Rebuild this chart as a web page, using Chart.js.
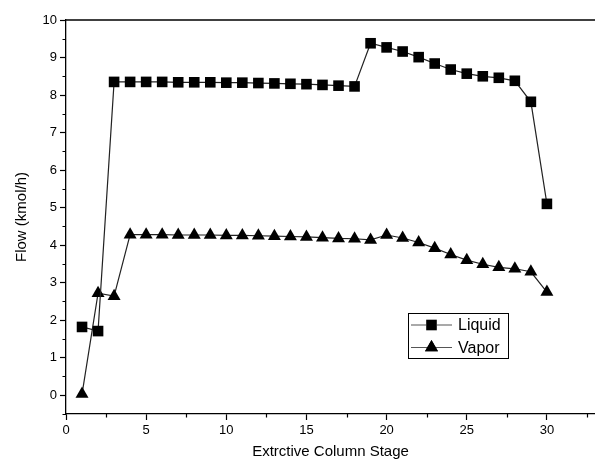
<!DOCTYPE html>
<html>
<head>
<meta charset="utf-8">
<script src="https://cdn.jsdelivr.net/npm/chart.js@4.4.1/dist/chart.umd.min.js"></script>
<style>
  html, body { margin: 0; padding: 0; background: #fff; }
  #wrap { width: 595px; height: 471px; }
</style>
</head>
<body>
<div id="wrap"><canvas id="chart1"></canvas></div>
<script>
// stage numbers along the column
var stages = [1,2,3,4,5,6,7,8,9,10,11,12,13,14,15,16,17,18,19,20,21,22,23,24,25,26,27,28,29,30];

// liquid flow, kmol/h
var liquid = [1.82,1.71,8.35,8.35,8.35,8.35,8.34,8.34,8.34,8.33,8.33,8.32,8.31,8.30,8.29,8.27,8.25,8.23,
              9.38,9.27,9.16,9.01,8.84,8.68,8.57,8.50,8.46,8.38,7.82,5.10];

// vapor flow, kmol/h
var vapor = [0.03,2.72,2.64,4.28,4.28,4.28,4.27,4.27,4.27,4.26,4.26,4.25,4.24,4.23,4.22,4.20,4.18,4.17,
             4.14,4.27,4.19,4.07,3.92,3.75,3.60,3.49,3.41,3.37,3.29,2.75];

var seriesNames = ["Liquid", "Vapor"];

// minor tick values (between labelled ticks)
var xMinor = [2.5, 7.5, 12.5, 17.5, 22.5, 27.5, 32.5];
var yMinor = [-0.5, 0.5, 1.5, 2.5, 3.5, 4.5, 5.5, 6.5, 7.5, 8.5, 9.5];

function pts(ys) {
  return stages.map(function (s, i) { return { x: s, y: ys[i] }; });
}

var fontFam = "'Liberation Sans', Arial, sans-serif";

// top border, minor ticks and the legend inside the plot
var framePlugin = {
  id: "frame",
  afterDraw: function (chart) {
    var ctx = chart.ctx, a = chart.chartArea;
    var xs = chart.scales.x, ys = chart.scales.y;
    ctx.save();
    ctx.strokeStyle = "#000";
    ctx.lineWidth = 1.3;
    ctx.beginPath();
    ctx.moveTo(a.left, a.top);
    ctx.lineTo(a.right, a.top);
    ctx.stroke();

    ctx.lineWidth = 1.2;
    ctx.beginPath();
    xMinor.forEach(function (v) {
      var px = Math.round(xs.getPixelForValue(v)) + 0.5;
      ctx.moveTo(px, a.bottom);
      ctx.lineTo(px, a.bottom + 3.5);
    });
    yMinor.forEach(function (v) {
      var py = Math.round(ys.getPixelForValue(v)) + 0.5;
      ctx.moveTo(a.left, py);
      ctx.lineTo(a.left - 3.5, py);
    });
    ctx.stroke();

    // legend
    var lx = 408, ly = 313, lw = 100, lh = 45;
    ctx.fillStyle = "#fff";
    ctx.fillRect(lx, ly, lw, lh);
    ctx.lineWidth = 1;
    ctx.strokeStyle = "#000";
    ctx.strokeRect(lx + 0.5, ly + 0.5, lw, lh);
    chart.data.datasets.forEach(function (ds, i) {
      var cy = ly + 12 + i * 22.5;
      ctx.strokeStyle = "#555";
      ctx.lineWidth = 1.2;
      ctx.beginPath();
      ctx.moveTo(lx + 3, cy);
      ctx.lineTo(lx + 44, cy);
      ctx.stroke();
      Chart.helpers.drawPoint(ctx, { pointStyle: ds.pointStyle, radius: ds.pointRadius, borderWidth: 0 }, lx + 23.5, cy);
      ctx.fillStyle = "#000";
      ctx.fill();
      ctx.font = "16px " + fontFam;
      ctx.textBaseline = "middle";
      ctx.textAlign = "left";
      ctx.fillText(ds.label, lx + 50, cy + 1);
    });
    ctx.restore();
  }
};

let myChart1 = document.getElementById("chart1").getContext("2d");

var data = {
  datasets: [
    {
      label: seriesNames[0],
      data: pts(liquid),
      borderColor: "#222",
      backgroundColor: "#000",
      borderWidth: 1.2,
      pointStyle: "rect",
      pointRadius: 7.5,
      pointBorderWidth: 0,
      pointBackgroundColor: "#000"
    },
    {
      label: seriesNames[1],
      data: pts(vapor),
      borderColor: "#222",
      backgroundColor: "#000",
      borderWidth: 1.2,
      pointStyle: "triangle",
      pointRadius: 7.5,
      pointBorderWidth: 0,
      pointBackgroundColor: "#000"
    }
  ]
};

var options = {
  responsive: true,
  maintainAspectRatio: false,
  animation: false,
  layout: { autoPadding: false, padding: { left: 9, top: 20, right: 0, bottom: 6 } },
  plugins: {
    legend: { display: false },
    tooltip: { enabled: false }
  },
  scales: {
    x: {
      type: "linear",
      min: 0,
      max: 33,
      afterFit: function (scale) {
        scale.height = 51;
        scale.paddingLeft = 0;
        scale.paddingRight = 0;
      },
      ticks: {
        stepSize: 5,
        includeBounds: false,
        autoSkip: false,
        maxRotation: 0,
        padding: 3,
        color: "#000",
        font: { family: fontFam, size: 13 }
      },
      grid: { drawOnChartArea: false, tickLength: 6, tickColor: "#000", tickWidth: 1.2 },
      border: { color: "#000", width: 1.3 },
      title: {
        display: true,
        text: "Extrctive Column Stage",
        color: "#000",
        font: { family: fontFam, size: 15 },
        padding: { top: 4, bottom: 4 }
      }
    },
    y: {
      min: -0.5,
      max: 10,
      afterFit: function (scale) { scale.width = 57; },
      ticks: {
        stepSize: 1,
        includeBounds: false,
        autoSkip: false,
        padding: 3,
        color: "#000",
        font: { family: fontFam, size: 13 }
      },
      grid: { drawOnChartArea: false, tickLength: 6, tickColor: "#000", tickWidth: 1.2 },
      border: { color: "#000", width: 1.3 },
      title: {
        display: true,
        text: "Flow (kmol/h)",
        color: "#000",
        font: { family: fontFam, size: 15 },
        padding: { top: 4, bottom: 4 }
      }
    }
  }
};

let chart1 = new Chart(myChart1, {
  type: "line",
  data: data,
  options: options,
  plugins: [framePlugin]
});
</script>
</body>
</html>
